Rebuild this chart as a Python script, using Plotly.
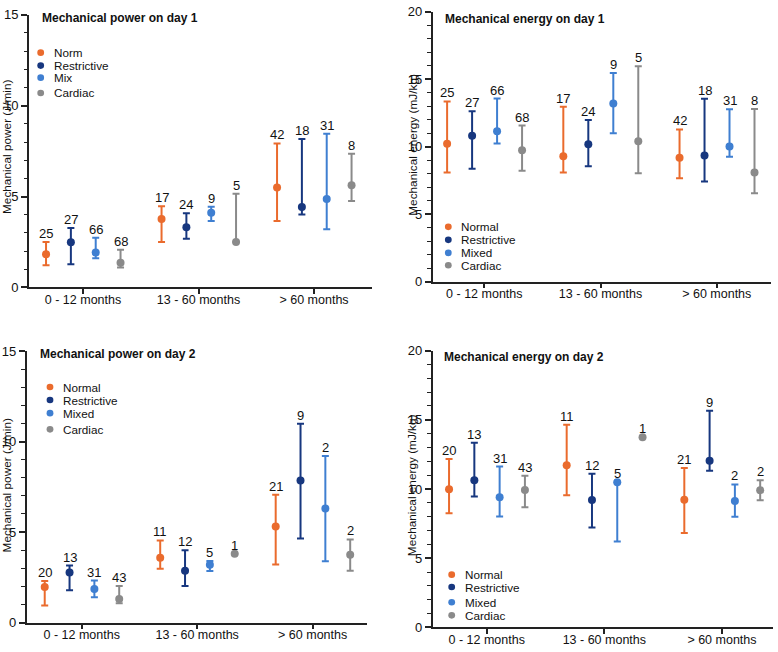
import plotly.graph_objects as go

W, H = 778, 652

AGE_BANDS = ["0 - 12 months", "13 - 60 months", "> 60 months"]
GROUPS_D1P = ["Norm", "Restrictive", "Mix", "Cardiac"]
GROUPS = ["Normal", "Restrictive", "Mixed", "Cardiac"]
COLORS = ["#EA6B2D", "#17377F", "#3F7FD1", "#8A8A8A"]

# rows = groups (Normal, Restrictive, Mixed, Cardiac), cols = age bands
power_d1_mid = [[1.83, 3.77, 5.50], [2.48, 3.31, 4.42], [1.92, 4.11, 4.87], [1.35, 2.50, 5.62]]
power_d1_lo = [[1.22, 2.50, 3.65], [1.28, 2.68, 4.01], [1.60, 3.65, 3.20], [1.10, 2.50, 4.76]]
power_d1_hi = [[2.50, 4.47, 7.92], [3.27, 4.08, 8.17], [2.73, 4.44, 8.46], [2.07, 5.16, 7.35]]
n_d1 = [[25, 17, 42], [27, 24, 18], [66, 9, 31], [68, 5, 8]]

energy_d1_mid = [[10.22, 9.30, 9.18], [10.82, 10.19, 9.35], [11.14, 13.21, 10.02], [9.73, 10.41, 8.09]]
energy_d1_lo = [[8.09, 8.09, 7.66], [8.36, 8.55, 7.42], [10.24, 10.99, 9.25], [8.21, 8.04, 6.55]]
energy_d1_hi = [[13.36, 12.97, 11.28], [12.63, 11.98, 13.55], [13.57, 15.46, 12.78], [11.57, 15.97, 12.80]]

power_d2_mid = [[1.96, 3.58, 5.31], [2.76, 2.86, 7.85], [1.85, 3.19, 6.30], [1.30, 3.80, 3.75]]
power_d2_lo = [[0.94, 2.97, 3.21], [1.78, 2.02, 4.65], [1.40, 2.85, 3.39], [1.06, 3.80, 2.86]]
power_d2_hi = [[2.29, 4.54, 7.06], [3.15, 4.00, 10.99], [2.32, 3.40, 9.20], [2.02, 3.80, 4.59]]
n_d2 = [[20, 11, 21], [13, 12, 9], [31, 5, 2], [43, 1, 2]]

energy_d2_mid = [[9.98, 11.72, 9.22], [10.64, 9.20, 12.05], [9.41, 10.49, 9.13], [9.93, 13.74, 9.91]]
energy_d2_lo = [[8.24, 9.55, 6.82], [9.46, 7.22, 11.32], [8.02, 6.21, 8.00], [8.68, 13.74, 9.18]]
energy_d2_hi = [[12.16, 14.64, 11.51], [13.34, 11.11, 15.65], [11.62, 10.49, 10.33], [10.96, 13.74, 10.64]]

OFFSETS = [-0.32, -0.105, 0.11, 0.325]
FONT = "Liberation Sans, Arial, Helvetica, sans-serif"
INK = "#222222"


def px(x):
    return x / W


def py(y):
    return 1 - y / H


panels = [
    dict(ax="1", title="Mechanical power on day 1", ytitle="Mechanical power (J/min)",
         mid=power_d1_mid, lo=power_d1_lo, hi=power_d1_hi, n=n_d1, names=GROUPS_D1P,
         xdom=(29, 372), ydom=(8, 287), xr=(-0.4675, 2.502), ymax=15,
         title_pos=(40, 11.7), ytitle_pos=(7, 143.3),
         leg_x=(40.7, 51.7), leg_y=[46.7, 60, 72.3, 88]),
    dict(ax="2", title="Mechanical energy on day 1", ytitle="Mechanical energy (mJ/kg)",
         mid=energy_d1_mid, lo=energy_d1_lo, hi=energy_d1_hi, n=n_d1, names=GROUPS,
         xdom=(432.7, 771), ydom=(5, 281), xr=(-0.444, 2.467), ymax=20,
         title_pos=(443.3, 12.3), ytitle_pos=(412.7, 141.3),
         leg_x=(448.3, 459.3), leg_y=[225, 238.3, 251.7, 264.3]),
    dict(ax="3", title="Mechanical power on day 2", ytitle="Mechanical power (J/min)",
         mid=power_d2_mid, lo=power_d2_lo, hi=power_d2_hi, n=n_d2, names=GROUPS,
         xdom=(26.7, 366.7), ydom=(352.3, 630), xr=(-0.476, 2.468), ymax=15,
         title_pos=(38.3, 355), ytitle_pos=(6.7, 490),
         leg_x=(50, 61), leg_y=[389, 402.3, 415.7, 432.3]),
    dict(ax="4", title="Mechanical energy on day 2", ytitle="Mechanical energy (mJ/kg)",
         mid=energy_d2_mid, lo=energy_d2_lo, hi=energy_d2_hi, n=n_d2, names=GROUPS,
         xdom=(432.7, 773), ydom=(351.7, 635), xr=(-0.459, 2.434), ymax=20,
         title_pos=(441.7, 358.3), ytitle_pos=(412.7, 489.7),
         leg_x=(451.7, 462.7), leg_y=[581, 593.7, 609.3, 622.7]),
]

fig = go.Figure()
annotations = []
shapes = []
layout = {}

for p in panels:
    a = p["ax"]
    xref = "x" if a == "1" else "x" + a
    yref = "y" if a == "1" else "y" + a
    for g in range(4):
        xs = [c + OFFSETS[g] for c in range(3)]
        mid, lo, hi = p["mid"][g], p["lo"][g], p["hi"][g]
        fig.add_trace(go.Scatter(
            x=xs, y=mid, mode="markers", xaxis=xref, yaxis=yref,
            name=p["names"][g], showlegend=False,
            marker=dict(size=8, color=COLORS[g]),
            error_y=dict(type="data", symmetric=False,
                         array=[h - m for h, m in zip(hi, mid)],
                         arrayminus=[m - l for m, l in zip(mid, lo)],
                         color=COLORS[g], thickness=2, width=3.5),
        ))
        for c in range(3):
            annotations.append(dict(
                x=xs[c], y=max(hi[c], mid[c]), xref=xref, yref=yref,
                text=str(p["n"][g][c]), showarrow=False, xanchor="center",
                yanchor="bottom", yshift=-1,
                font=dict(size=13, color="#111111", family=FONT)))
        # legend entry
        lx_dot, lx_txt = p["leg_x"]
        ly = p["leg_y"][g]
        r = 3.4
        shapes.append(dict(type="circle", xref="paper", yref="paper",
                           x0=px(lx_dot - r), x1=px(lx_dot + r),
                           y0=py(ly + r), y1=py(ly - r),
                           fillcolor=COLORS[g], line=dict(width=0)))
        annotations.append(dict(x=px(lx_txt), y=py(ly), xref="paper", yref="paper",
                                text=p["names"][g], showarrow=False,
                                xanchor="left", yanchor="middle",
                                font=dict(size=11.7, color="#111111", family=FONT)))
    # title
    annotations.append(dict(x=px(p["title_pos"][0]), y=py(p["title_pos"][1]),
                            xref="paper", yref="paper", text="<b>" + p["title"] + "</b>",
                            showarrow=False, xanchor="left", yanchor="middle",
                            font=dict(size=12, color="#111111", family=FONT)))
    annotations.append(dict(x=px(p["ytitle_pos"][0]), y=py(p["ytitle_pos"][1]),
                            xref="paper", yref="paper", text=p["ytitle"], textangle=-90,
                            showarrow=False, xanchor="center", yanchor="middle",
                            font=dict(size=11.8, color="#111111", family=FONT)))
    xkey = "xaxis" if a == "1" else "xaxis" + a
    ykey = "yaxis" if a == "1" else "yaxis" + a
    layout[xkey] = dict(
        domain=[px(p["xdom"][0]), px(p["xdom"][1])], range=list(p["xr"]),
        anchor=yref, tickmode="array", tickvals=[0, 1, 2], ticktext=AGE_BANDS,
        ticks="outside", ticklen=5, tickwidth=1.5, tickcolor=INK, ticklabelstandoff=-5,
        showline=True, linewidth=1.8, linecolor=INK, showgrid=False, zeroline=False,
        tickfont=dict(size=12.5, color="#111111", family=FONT), fixedrange=True)
    layout[ykey] = dict(
        domain=[py(p["ydom"][1]), py(p["ydom"][0])], range=[0, p["ymax"]],
        anchor=xref, tickmode="linear", tick0=0, dtick=5,
        ticks="outside", ticklen=6, tickwidth=1.5, tickcolor=INK,
        minor=dict(dtick=1, tick0=0, ticks="outside", ticklen=3.5, tickwidth=1.3,
                   tickcolor=INK, showgrid=False),
        showline=True, linewidth=1.8, linecolor=INK, showgrid=False, zeroline=False,
        tickfont=dict(size=13, color="#111111", family=FONT), fixedrange=True)

fig.update_layout(
    width=W, height=H, margin=dict(l=0, r=0, t=0, b=0),
    paper_bgcolor="white", plot_bgcolor="white",
    font=dict(family=FONT, color="#111111"),
    showlegend=False, annotations=annotations, shapes=shapes, **layout)

fig.write_html("out.html", config={"displayModeBar": False},
               post_script="document.body.style.margin='0';document.body.style.overflow='hidden';")
